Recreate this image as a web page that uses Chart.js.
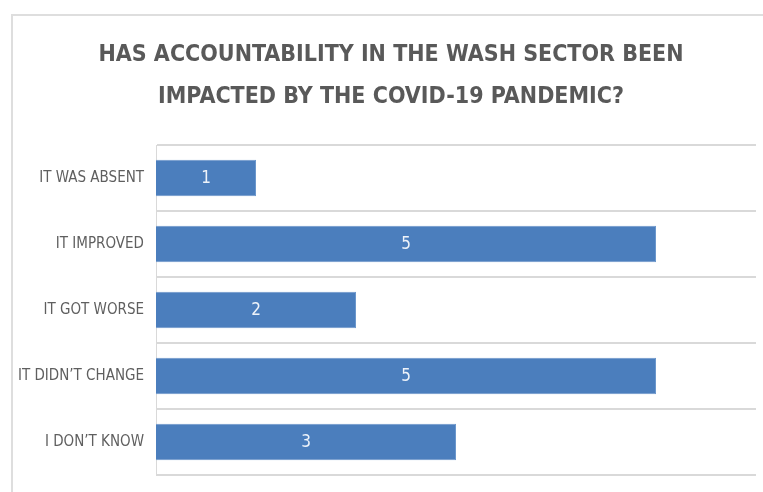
<!DOCTYPE html>
<html>
<head>
<meta charset="utf-8">
<script src="https://cdn.jsdelivr.net/npm/chart.js@4"></script>
<style>
  html, body { margin: 0; padding: 0; background: #fff; }
  #wrap { position: relative; width: 763px; height: 492px; overflow: hidden; }
  #frameTop { position: absolute; left: 11px; top: 14px; right: 0; height: 2px; background: #dedede; }
  #frameLeft { position: absolute; left: 11px; top: 14px; bottom: 0; width: 2px; background: #dedede; }
  canvas { position: absolute; left: 0; top: 0; }
</style>
</head>
<body>
<div id="wrap">
  <div id="frameTop"></div>
  <div id="frameLeft"></div>
  <canvas id="grafico" width="763" height="492"></canvas>
</div>
<script>
// data
const titleLines = [
  "HAS ACCOUNTABILITY IN THE WASH SECTOR BEEN",
  "IMPACTED BY THE COVID-19 PANDEMIC?",
];
const categories = [
  "IT WAS ABSENT",
  "IT IMPROVED",
  "IT GOT WORSE",
  "IT DIDN\u2019T CHANGE",
  "I DON\u2019T KNOW",
];
const responses = [1, 5, 2, 5, 3];

const fontFamily = "'Liberation Sans Narrow', 'DejaVu Sans Condensed', 'Liberation Sans', sans-serif";

// white number inside each bar
const valueLabels = {
  id: "valueLabels",
  afterDatasetsDraw(chart) {
    const ctx = chart.ctx;
    const meta = chart.getDatasetMeta(0);
    ctx.save();
    ctx.fillStyle = "#eef3fa";
    ctx.font = "17px " + fontFamily;
    ctx.textAlign = "center";
    ctx.textBaseline = "middle";
    meta.data.forEach((bar, i) => {
      const x = (bar.base + bar.x) / 2;
      ctx.fillText(String(chart.data.datasets[0].data[i]), x, bar.y + 1);
    });
    ctx.restore();
  },
};

// the title in the picture sits a bit right of the canvas centre
const titleShift = {
  id: "titleShift",
  afterLayout(chart) {
    if (chart.titleBlock) chart.titleBlock.left += 26;
  },
};

new Chart(document.getElementById("grafico").getContext("2d"), {
  type: "bar",
  data: {
    labels: categories,
    datasets: [
      {
        label: "Responses",
        data: responses,
        backgroundColor: "#4b7ebd",
        borderColor: "#6b97cc",
        borderWidth: 1,
        barPercentage: 0.55,
        categoryPercentage: 1,
      },
    ],
  },
  options: {
    indexAxis: "y",
    responsive: false,
    animation: false,
    layout: {
      padding: { left: 0, top: 22, right: 7, bottom: 17 },
    },
    plugins: {
      legend: { display: false },
      tooltip: { enabled: false },
      title: {
        display: true,
        text: titleLines,
        color: "#595959",
        font: { family: fontFamily, size: 23, weight: "bold", lineHeight: "42px" },
        padding: { top: 12, bottom: 27 },
      },
    },
    scales: {
      x: {
        display: false,
        min: 0,
        max: 6,
      },
      y: {
        afterFit(scale) {
          scale.width = 156;
        },
        grid: {
          color: "#d9d9d9",
          lineWidth: 2,
          drawTicks: true,
          tickLength: 12,
          tickColor: "rgba(0,0,0,0)",
          offset: true,
        },
        border: { color: "#d9d9d9", width: 1 },
        ticks: {
          color: "#5f5f5f",
          padding: 0,
          font: { family: fontFamily, size: 15 },
        },
      },
    },
  },
  plugins: [valueLabels, titleShift],
});
</script>
</body>
</html>
